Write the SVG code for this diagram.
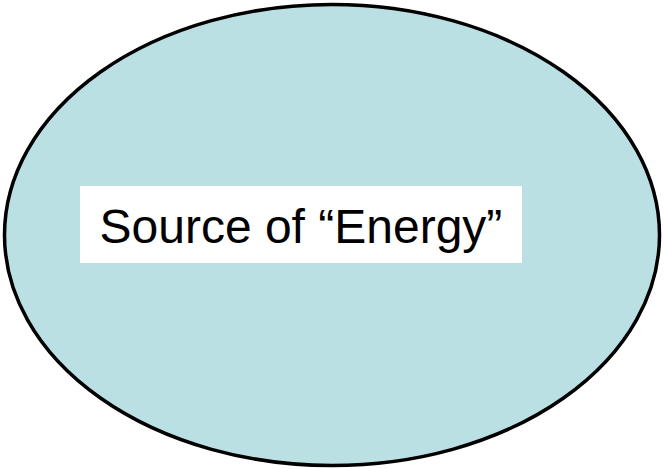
<svg xmlns="http://www.w3.org/2000/svg" width="664" height="469" viewBox="0 0 664 469">
<style>
.shape{fill:#BBE0E3;stroke:#000;stroke-width:3.5}
.box{fill:#fff}
.lbl{font-family:"Liberation Sans",Arial,sans-serif;font-size:48px;fill:#000}
</style>
<rect width="664" height="469" fill="#fff"/>
<g id="source-node">
<ellipse class="shape" cx="332" cy="235" rx="327.5" ry="230.5"/>
<rect class="box" x="80" y="186" width="442" height="77"/>
<text class="lbl" x="99.5" y="243">Source of “Energy”</text>
</g>
<g id="connectors"/>
</svg>
